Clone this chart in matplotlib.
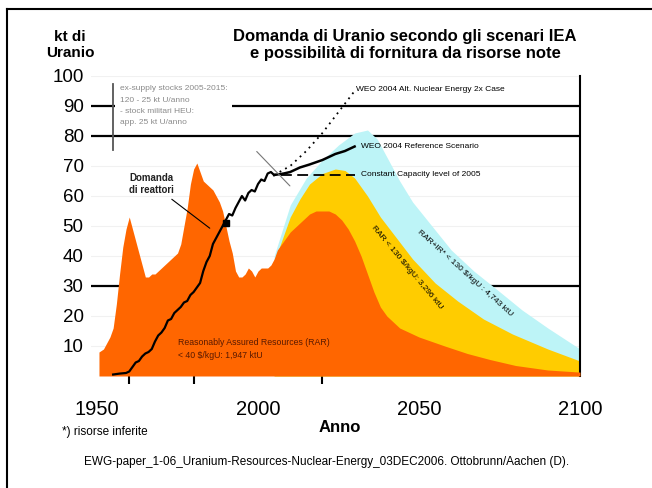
import matplotlib
matplotlib.use("Agg")
import matplotlib.pyplot as plt
from matplotlib.lines import Line2D

plt.rcParams['font.family'] = ['Liberation Sans', 'DejaVu Sans']

# produzione storica + RAR < 40 $/kgU
orange_years = [1950.6, 1952, 1953, 1954, 1955, 1956, 1957, 1958, 1959, 1960, 1961, 1962, 1963,
                1964, 1965, 1966, 1967, 1968, 1969, 1970, 1971, 1972, 1973, 1974, 1975, 1976,
                1977, 1978, 1979, 1980, 1981, 1982, 1983, 1984, 1985, 1986, 1987, 1988, 1989,
                1990, 1991, 1992, 1993, 1994, 1995, 1996, 1997, 1998, 1999, 2000, 2001, 2002,
                2003, 2004, 2005, 2006, 2008, 2010, 2012, 2014, 2016, 2018, 2020, 2022, 2024,
                2026, 2028, 2030, 2032, 2034, 2036, 2038, 2040, 2044, 2050, 2058, 2065, 2072,
                2080, 2090, 2100]
orange_vals = [8, 9, 11, 13, 16, 24, 34, 43, 49, 53, 49, 45, 41,
               37, 33, 33, 34, 34, 35, 36, 37, 38, 39, 40, 41, 44,
               50, 56, 64, 69, 71, 68, 65, 64, 63, 62, 60, 58, 55,
               50, 45, 41, 35, 33, 33, 34, 36, 35, 33, 35, 36, 36,
               36, 37, 39, 42, 45, 48, 50, 52, 54, 55, 55, 55, 54,
               52, 49, 45, 40, 34, 28, 23, 20, 16, 13, 10, 7.5, 5.5,
               3.5, 2, 1.3]

# RAR < 130 $/kgU
yellow_years = [2005, 2008, 2010, 2013, 2016, 2020, 2024, 2027, 2030, 2034, 2038, 2043, 2048,
                2055, 2062, 2070, 2079, 2090, 2100]
yellow_vals = [38, 47, 53, 59, 64, 67.5, 69, 68.5, 66, 60, 53, 46, 39,
               31, 25, 19, 14, 9, 5]

# RAR + IR < 130 $/kgU
blue_years = [2005, 2010, 2015, 2020, 2025, 2030, 2034, 2037, 2040, 2044, 2048, 2054, 2060,
              2067, 2074, 2082, 2090, 2100]
blue_vals = [40, 57, 66, 72, 77, 81, 82, 79, 73, 65, 58, 50, 42,
             35, 29, 22, 16, 9]

# fabbisogno dei reattori (storico)
demand_years = [1955, 1957, 1959, 1960, 1961, 1962, 1963, 1964, 1965, 1966, 1967, 1968, 1969,
                1970, 1971, 1972, 1973, 1974, 1975, 1976, 1977, 1978, 1979, 1980, 1981, 1982,
                1983, 1984, 1985, 1986, 1987, 1988, 1989, 1990, 1991, 1992, 1993, 1994, 1995,
                1996, 1997, 1998, 1999, 2000, 2001, 2002, 2003, 2004, 2005]
demand_vals = [0.5, 0.8, 1, 1.5, 3, 4.5, 5, 6.5, 7.5, 8, 9, 11.5, 13.5,
               14.5, 16, 18.5, 19, 21, 22, 23, 24.5, 25, 27, 28, 29.5, 31,
               35, 38, 40, 44, 46, 48, 50, 52, 54, 53.5, 56, 58, 60,
               58.5, 61, 62, 61.5, 64, 65.5, 65, 67.5, 68, 67]

# WEO Reference Scenario
ref_years = [2005, 2008, 2010, 2013, 2016, 2020, 2024, 2027, 2030]
ref_vals = [67, 67.5, 68, 69.5, 70.5, 72, 74, 75, 76.5]

# WEO scenario alto (a punti)
high_years = [2005, 2010, 2015, 2020, 2025, 2030]
high_vals = [67, 70, 75, 81, 88, 95]

# capacita costante 2005
const_years = [2007, 2030]
const_vals = [67, 67]

y_ticks = [10, 20, 30, 40, 50, 60, 70, 80, 90, 100]
x_ticks = [1950, 2000, 2050, 2100]

fig = plt.figure(figsize=(6.52, 4.88), dpi=100)
ax = fig.add_axes([90.6 / 652, 1 - 376 / 488, (580 - 90.6) / 652, 300 / 488])

# linee di griglia
for v in y_ticks:
    ax.axhline(v, color='#f1f1f1', lw=0.8, zorder=0)
for v in [90, 80, 30]:
    ax.axhline(v, color='black', lw=1.6, zorder=0.5)

ax.fill_between(blue_years, 0, blue_vals, color='#BDF4F7', lw=0, zorder=1)
ax.fill_between(yellow_years, 0, yellow_vals, color='#FFCC00', lw=0, zorder=2)
ax.fill_between(orange_years, 0, orange_vals, color='#FF6600', lw=0, zorder=3)

ax.plot(demand_years, demand_vals, color='black', lw=1.6, zorder=5)
ax.plot(ref_years, ref_vals, color='black', lw=1.8, zorder=5)
ax.plot(high_years, high_vals, color='black', lw=1.3, ls=(0, (1, 2.5)), zorder=5)
ax.plot(const_years, const_vals, color='black', lw=1.3, ls=(0, (6, 3)), zorder=5)
ax.plot([1990], [51], marker='s', ms=4, color='black', zorder=6)

ax.set_xlim(1948, 2100)
ax.set_ylim(0, 100)
for s in ['left', 'top', 'bottom']:
    ax.spines[s].set_visible(False)
ax.spines['right'].set_linewidth(1.5)

ax.set_yticks(y_ticks)
ax.set_yticklabels([str(v) for v in y_ticks])
ax.tick_params(axis='y', length=0, pad=5, labelsize=13.5)
ax.set_xticks(x_ticks)
ax.set_xticklabels([str(v) for v in x_ticks])
ax.tick_params(axis='x', length=0, pad=17, labelsize=14.5)
ax.set_xticks([1960, 1980, 2000, 2020, 2100], minor=True)
ax.tick_params(axis='x', which='minor', length=6, width=1.5, color='black')

# riquadro di testo in alto a sinistra
ax.text(1957, 97, "ex-supply stocks 2005-2015:\n120 - 25 kt U/anno\n- stock militari HEU:\napp. 25 kt U/anno",
        fontsize=6, color='#8a8a8a', va='top', ha='left', linespacing=1.9, zorder=7,
        bbox=dict(facecolor='white', edgecolor='none', boxstyle='square,pad=0.6'))
ax.plot([1955, 1955], [75.5, 97.5], color='#555555', lw=1.3, zorder=8)
ax.annotate("", xy=(2010.5, 62.7), xytext=(1999, 75.5),
            arrowprops=dict(arrowstyle='-', color='#777777', lw=0.8), zorder=8)

ax.annotate("Domanda\ndi reattori", xy=(1985.7, 48.7), xytext=(1967, 64),
            fontsize=7, fontweight='bold', ha='center', va='center', color='#222222',
            arrowprops=dict(arrowstyle='-', color='black', lw=0.8), zorder=8)

ax.text(2030.5, 95.5, "WEO 2004 Alt. Nuclear Energy 2x Case", fontsize=6, va='center', zorder=8)
ax.text(2032, 76.5, "WEO 2004 Reference Scenario", fontsize=6, va='center', zorder=8)
ax.text(2032, 67, "Constant Capacity level of 2005", fontsize=6, va='center', zorder=8)
ax.text(2064.3, 34.3, "RAR+IR* < 130 $/kgU : 4,743 ktU", fontsize=6, rotation=-42,
        ha='center', va='center', rotation_mode='anchor', zorder=8)
ax.text(2046.3, 36, "RAR < 130 $/kgU: 3,296 ktU", fontsize=6, rotation=-50,
        ha='center', va='center', rotation_mode='anchor', zorder=8)
ax.text(1975, 9, "Reasonably Assured Resources (RAR)\n< 40 $/kgU: 1,947 ktU", fontsize=6.3,
        color='#5a1a00', ha='left', va='center', linespacing=1.6, zorder=8)

# titoli
fig.text(405 / 652, 1 - 45 / 488, "Domanda di Uranio secondo gli scenari IEA\ne possibilità di fornitura da risorse note",
         ha='center', va='center', fontsize=12, fontweight='bold', linespacing=1.15)
fig.text(70 / 652, 1 - 45 / 488, "kt di\nUranio", ha='center', va='center', fontsize=11,
         fontweight='bold', linespacing=1.15)
fig.text(340 / 652, 1 - 427 / 488, "Anno", ha='center', va='center', fontsize=12, fontweight='bold')
fig.text(62 / 652, 1 - 432 / 488, "*) risorse inferite", ha='left', va='center', fontsize=8.5)
fig.text(327 / 652, 1 - 462 / 488,
         "EWG-paper_1-06_Uranium-Resources-Nuclear-Energy_03DEC2006. Ottobrunn/Aachen (D).",
         ha='center', va='center', fontsize=8.5)

# cornice
fig.add_artist(Line2D([7 / 652, 1], [1 - 9 / 488, 1 - 9 / 488], color='black', lw=1.5))
fig.add_artist(Line2D([7 / 652, 7 / 652], [0, 1 - 9 / 488], color='black', lw=1.5))

fig.savefig("out.png", dpi=100)
